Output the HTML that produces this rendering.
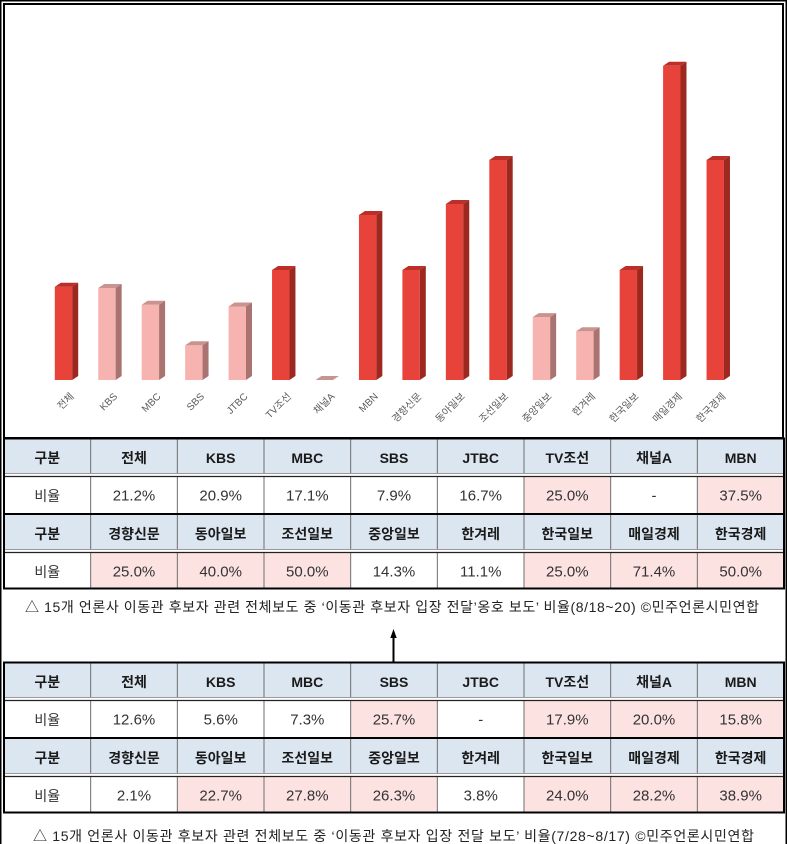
<!DOCTYPE html>
<html><head><meta charset="utf-8">
<style>
html,body{margin:0;padding:0;background:#fff;}
svg{display:block;}
text{font-family:"Liberation Sans","Noto Sans CJK KR",sans-serif;}
</style></head>
<body>
<svg width="787" height="844" viewBox="0 0 787 844" xmlns="http://www.w3.org/2000/svg">
<rect x="0" y="0" width="787" height="844" fill="#fff"/>
<!-- outer page border -->
<line x1="0.75" y1="0" x2="0.75" y2="844" stroke="#000" stroke-width="1.5"/>
<line x1="0" y1="0.75" x2="787" y2="0.75" stroke="#000" stroke-width="1.5"/>
<line x1="786.25" y1="0" x2="786.25" y2="844" stroke="#000" stroke-width="1.5"/>
<!-- chart frame -->
<rect x="4" y="4" width="779" height="434" fill="none" stroke="#000" stroke-width="2"/>

<defs>
<g id="dummy"></g>
</defs>

<!-- bars -->
<g>
<!-- 0 전체 red h=93.3 -->
<g transform="translate(54.8,286.7)"><rect x="0" y="0" width="17.4" height="93.3" fill="#e8433a"/><polygon points="0,0 6,-4 23.4,-4 17.4,0" fill="#bb2f28"/><polygon points="17.4,0 23.4,-4 23.4,89.3 17.4,93.3" fill="#9c2820"/></g>
<!-- 1 KBS pink h=92 -->
<g transform="translate(98.25,288)"><rect x="0" y="0" width="17.4" height="92" fill="#f7b3b0"/><polygon points="0,0 6,-4 23.4,-4 17.4,0" fill="#c99390"/><polygon points="17.4,0 23.4,-4 23.4,88 17.4,92" fill="#a87370"/></g>
<!-- 2 MBC pink h=75.2 -->
<g transform="translate(141.7,304.8)"><rect x="0" y="0" width="17.4" height="75.2" fill="#f7b3b0"/><polygon points="0,0 6,-4 23.4,-4 17.4,0" fill="#c99390"/><polygon points="17.4,0 23.4,-4 23.4,71.2 17.4,75.2" fill="#a87370"/></g>
<!-- 3 SBS pink h=34.8 -->
<g transform="translate(185.15,345.2)"><rect x="0" y="0" width="17.4" height="34.8" fill="#f7b3b0"/><polygon points="0,0 6,-4 23.4,-4 17.4,0" fill="#c99390"/><polygon points="17.4,0 23.4,-4 23.4,30.8 17.4,34.8" fill="#a87370"/></g>
<!-- 4 JTBC pink h=73.5 -->
<g transform="translate(228.6,306.5)"><rect x="0" y="0" width="17.4" height="73.5" fill="#f7b3b0"/><polygon points="0,0 6,-4 23.4,-4 17.4,0" fill="#c99390"/><polygon points="17.4,0 23.4,-4 23.4,69.5 17.4,73.5" fill="#a87370"/></g>
<!-- 5 TV조선 red h=110 -->
<g transform="translate(272.05,270)"><rect x="0" y="0" width="17.4" height="110" fill="#e8433a"/><polygon points="0,0 6,-4 23.4,-4 17.4,0" fill="#bb2f28"/><polygon points="17.4,0 23.4,-4 23.4,106 17.4,110" fill="#9c2820"/></g>
<!-- 6 채널A zero -->
<g transform="translate(315.5,380)"><polygon points="0,0 6,-4 23.4,-4 17.4,0" fill="#c99390"/></g>
<!-- 7 MBN red h=165 -->
<g transform="translate(358.95,215)"><rect x="0" y="0" width="17.4" height="165" fill="#e8433a"/><polygon points="0,0 6,-4 23.4,-4 17.4,0" fill="#bb2f28"/><polygon points="17.4,0 23.4,-4 23.4,161 17.4,165" fill="#9c2820"/></g>
<!-- 8 경향신문 red h=110 -->
<g transform="translate(402.4,270)"><rect x="0" y="0" width="17.4" height="110" fill="#e8433a"/><polygon points="0,0 6,-4 23.4,-4 17.4,0" fill="#bb2f28"/><polygon points="17.4,0 23.4,-4 23.4,106 17.4,110" fill="#9c2820"/></g>
<!-- 9 동아일보 red h=176 -->
<g transform="translate(445.85,204)"><rect x="0" y="0" width="17.4" height="176" fill="#e8433a"/><polygon points="0,0 6,-4 23.4,-4 17.4,0" fill="#bb2f28"/><polygon points="17.4,0 23.4,-4 23.4,172 17.4,176" fill="#9c2820"/></g>
<!-- 10 조선일보 red h=220 -->
<g transform="translate(489.3,160)"><rect x="0" y="0" width="17.4" height="220" fill="#e8433a"/><polygon points="0,0 6,-4 23.4,-4 17.4,0" fill="#bb2f28"/><polygon points="17.4,0 23.4,-4 23.4,216 17.4,220" fill="#9c2820"/></g>
<!-- 11 중앙일보 pink h=62.9 -->
<g transform="translate(532.75,317.1)"><rect x="0" y="0" width="17.4" height="62.9" fill="#f7b3b0"/><polygon points="0,0 6,-4 23.4,-4 17.4,0" fill="#c99390"/><polygon points="17.4,0 23.4,-4 23.4,58.9 17.4,62.9" fill="#a87370"/></g>
<!-- 12 한겨레 pink h=48.8 -->
<g transform="translate(576.2,331.2)"><rect x="0" y="0" width="17.4" height="48.8" fill="#f7b3b0"/><polygon points="0,0 6,-4 23.4,-4 17.4,0" fill="#c99390"/><polygon points="17.4,0 23.4,-4 23.4,44.8 17.4,48.8" fill="#a87370"/></g>
<!-- 13 한국일보 red h=110 -->
<g transform="translate(619.65,270)"><rect x="0" y="0" width="17.4" height="110" fill="#e8433a"/><polygon points="0,0 6,-4 23.4,-4 17.4,0" fill="#bb2f28"/><polygon points="17.4,0 23.4,-4 23.4,106 17.4,110" fill="#9c2820"/></g>
<!-- 14 매일경제 red h=314.2 -->
<g transform="translate(663.1,65.8)"><rect x="0" y="0" width="17.4" height="314.2" fill="#e8433a"/><polygon points="0,0 6,-4 23.4,-4 17.4,0" fill="#bb2f28"/><polygon points="17.4,0 23.4,-4 23.4,310.2 17.4,314.2" fill="#9c2820"/></g>
<!-- 15 한국경제 red h=220 -->
<g transform="translate(706.55,160)"><rect x="0" y="0" width="17.4" height="220" fill="#e8433a"/><polygon points="0,0 6,-4 23.4,-4 17.4,0" fill="#bb2f28"/><polygon points="17.4,0 23.4,-4 23.4,216 17.4,220" fill="#9c2820"/></g>
</g>

<!-- category labels -->
<g font-size="10" fill="#595959" text-anchor="end">
<text transform="translate(74.5,397) rotate(-45)">전체</text>
<text transform="translate(117.95,397) rotate(-45)">KBS</text>
<text transform="translate(161.4,397) rotate(-45)">MBC</text>
<text transform="translate(204.85,397) rotate(-45)">SBS</text>
<text transform="translate(248.3,397) rotate(-45)">JTBC</text>
<text transform="translate(291.75,397) rotate(-45)">TV조선</text>
<text transform="translate(335.2,397) rotate(-45)">채널A</text>
<text transform="translate(378.65,397) rotate(-45)">MBN</text>
<text transform="translate(422.1,397) rotate(-45)">경향신문</text>
<text transform="translate(465.55,397) rotate(-45)">동아일보</text>
<text transform="translate(509,397) rotate(-45)">조선일보</text>
<text transform="translate(552.45,397) rotate(-45)">중앙일보</text>
<text transform="translate(595.9,397) rotate(-45)">한겨레</text>
<text transform="translate(639.35,397) rotate(-45)">한국일보</text>
<text transform="translate(682.8,397) rotate(-45)">매일경제</text>
<text transform="translate(726.25,397) rotate(-45)">한국경제</text>
</g>

<!-- ================= TABLE 1 ================= -->
<g>
<rect x="4" y="439" width="780" height="35" fill="#dce6f1"/>
<rect x="4" y="515" width="780" height="35" fill="#dce6f1"/>
<!-- pink cells row data1 -->
<rect x="524" y="477" width="86.67" height="36" fill="#fde2e2"/>
<rect x="697.33" y="477" width="86.67" height="36" fill="#fde2e2"/>
<!-- pink cells row data2 -->
<rect x="90.67" y="553" width="86.67" height="35" fill="#fde2e2"/>
<rect x="177.33" y="553" width="86.67" height="35" fill="#fde2e2"/>
<rect x="264" y="553" width="86.67" height="35" fill="#fde2e2"/>
<rect x="524" y="553" width="86.67" height="35" fill="#fde2e2"/>
<rect x="610.67" y="553" width="86.67" height="35" fill="#fde2e2"/>
<rect x="697.33" y="553" width="86.67" height="35" fill="#fde2e2"/>
<!-- verticals -->
<g stroke="#6e6e6e" stroke-width="1">
<line x1="90.67" y1="439" x2="90.67" y2="588"/>
<line x1="177.33" y1="439" x2="177.33" y2="588"/>
<line x1="264" y1="439" x2="264" y2="588"/>
<line x1="350.67" y1="439" x2="350.67" y2="588"/>
<line x1="437.33" y1="439" x2="437.33" y2="588"/>
<line x1="524" y1="439" x2="524" y2="588"/>
<line x1="610.67" y1="439" x2="610.67" y2="588"/>
<line x1="697.33" y1="439" x2="697.33" y2="588"/>
</g>
<!-- double lines -->
<rect x="4" y="474" width="780" height="2.5" fill="#fff"/>
<rect x="4" y="550" width="780" height="2.5" fill="#fff"/>
<line x1="4" y1="473.5" x2="784" y2="473.5" stroke="#9a9a9a" stroke-width="1"/>
<line x1="4" y1="476.5" x2="784" y2="476.5" stroke="#222" stroke-width="1.2"/>
<line x1="4" y1="549.5" x2="784" y2="549.5" stroke="#9a9a9a" stroke-width="1"/>
<line x1="4" y1="552.5" x2="784" y2="552.5" stroke="#222" stroke-width="1.2"/>
<line x1="4" y1="514" x2="784" y2="514" stroke="#000" stroke-width="2"/>
<rect x="4" y="438.5" width="780" height="150" fill="none" stroke="#000" stroke-width="2"/>
</g>
<g font-size="14" text-anchor="middle" dominant-baseline="central">
<g font-weight="bold" fill="#1a1a1a">
<text x="47.3" y="458">구분</text><text x="134" y="458">전체</text><text x="220.7" y="458">KBS</text><text x="307.3" y="458">MBC</text><text x="394" y="458">SBS</text><text x="480.7" y="458">JTBC</text><text x="567.3" y="458">TV조선</text><text x="654" y="458">채널A</text><text x="740.7" y="458">MBN</text>
<text x="47.3" y="534">구분</text><text x="134" y="534">경향신문</text><text x="220.7" y="534">동아일보</text><text x="307.3" y="534">조선일보</text><text x="394" y="534">중앙일보</text><text x="480.7" y="534">한겨레</text><text x="567.3" y="534">한국일보</text><text x="654" y="534">매일경제</text><text x="740.7" y="534">한국경제</text>
</g>
<g fill="#333" font-size="15">
<text x="47.3" y="496" font-size="14">비율</text><text x="134" y="496">21.2%</text><text x="220.7" y="496">20.9%</text><text x="307.3" y="496">17.1%</text><text x="394" y="496">7.9%</text><text x="480.7" y="496">16.7%</text><text x="567.3" y="496">25.0%</text><text x="654" y="496">-</text><text x="740.7" y="496">37.5%</text>
<text x="47.3" y="572" font-size="14">비율</text><text x="134" y="572">25.0%</text><text x="220.7" y="572">40.0%</text><text x="307.3" y="572">50.0%</text><text x="394" y="572">14.3%</text><text x="480.7" y="572">11.1%</text><text x="567.3" y="572">25.0%</text><text x="654" y="572">71.4%</text><text x="740.7" y="572">50.0%</text>
</g>
</g>

<!-- caption 1 -->
<text x="25" y="612" font-size="14" fill="#222" textLength="734" lengthAdjust="spacing">△ 15개 언론사 이동관 후보자 관련 전체보도 중 ‘이동관 후보자 입장 전달’옹호 보도’ 비율(8/18~20) ©민주언론시민연합</text>

<!-- arrow -->
<line x1="393.5" y1="636" x2="393.5" y2="662" stroke="#000" stroke-width="2"/>
<polygon points="393.5,629 390.3,638 396.7,638" fill="#000"/>

<!-- ================= TABLE 2 ================= -->
<g>
<rect x="4" y="663" width="780" height="35" fill="#dce6f1"/>
<rect x="4" y="739" width="780" height="35" fill="#dce6f1"/>
<!-- pink data1 -->
<rect x="350.67" y="701" width="86.67" height="36" fill="#fde2e2"/>
<rect x="524" y="701" width="86.67" height="36" fill="#fde2e2"/>
<rect x="610.67" y="701" width="86.67" height="36" fill="#fde2e2"/>
<rect x="697.33" y="701" width="86.67" height="36" fill="#fde2e2"/>
<!-- pink data2 -->
<rect x="177.33" y="777" width="86.67" height="35" fill="#fde2e2"/>
<rect x="264" y="777" width="86.67" height="35" fill="#fde2e2"/>
<rect x="350.67" y="777" width="86.67" height="35" fill="#fde2e2"/>
<rect x="524" y="777" width="86.67" height="35" fill="#fde2e2"/>
<rect x="610.67" y="777" width="86.67" height="35" fill="#fde2e2"/>
<rect x="697.33" y="777" width="86.67" height="35" fill="#fde2e2"/>
<g stroke="#6e6e6e" stroke-width="1">
<line x1="90.67" y1="663" x2="90.67" y2="812"/>
<line x1="177.33" y1="663" x2="177.33" y2="812"/>
<line x1="264" y1="663" x2="264" y2="812"/>
<line x1="350.67" y1="663" x2="350.67" y2="812"/>
<line x1="437.33" y1="663" x2="437.33" y2="812"/>
<line x1="524" y1="663" x2="524" y2="812"/>
<line x1="610.67" y1="663" x2="610.67" y2="812"/>
<line x1="697.33" y1="663" x2="697.33" y2="812"/>
</g>
<rect x="4" y="698" width="780" height="2.5" fill="#fff"/>
<rect x="4" y="774" width="780" height="2.5" fill="#fff"/>
<line x1="4" y1="697.5" x2="784" y2="697.5" stroke="#9a9a9a" stroke-width="1"/>
<line x1="4" y1="700.5" x2="784" y2="700.5" stroke="#222" stroke-width="1.2"/>
<line x1="4" y1="773.5" x2="784" y2="773.5" stroke="#9a9a9a" stroke-width="1"/>
<line x1="4" y1="776.5" x2="784" y2="776.5" stroke="#222" stroke-width="1.2"/>
<line x1="4" y1="738" x2="784" y2="738" stroke="#000" stroke-width="2"/>
<rect x="4" y="662.5" width="780" height="150" fill="none" stroke="#000" stroke-width="2"/>
</g>
<g font-size="14" text-anchor="middle" dominant-baseline="central">
<g font-weight="bold" fill="#1a1a1a">
<text x="47.3" y="682">구분</text><text x="134" y="682">전체</text><text x="220.7" y="682">KBS</text><text x="307.3" y="682">MBC</text><text x="394" y="682">SBS</text><text x="480.7" y="682">JTBC</text><text x="567.3" y="682">TV조선</text><text x="654" y="682">채널A</text><text x="740.7" y="682">MBN</text>
<text x="47.3" y="758">구분</text><text x="134" y="758">경향신문</text><text x="220.7" y="758">동아일보</text><text x="307.3" y="758">조선일보</text><text x="394" y="758">중앙일보</text><text x="480.7" y="758">한겨레</text><text x="567.3" y="758">한국일보</text><text x="654" y="758">매일경제</text><text x="740.7" y="758">한국경제</text>
</g>
<g fill="#333" font-size="15">
<text x="47.3" y="720" font-size="14">비율</text><text x="134" y="720">12.6%</text><text x="220.7" y="720">5.6%</text><text x="307.3" y="720">7.3%</text><text x="394" y="720">25.7%</text><text x="480.7" y="720">-</text><text x="567.3" y="720">17.9%</text><text x="654" y="720">20.0%</text><text x="740.7" y="720">15.8%</text>
<text x="47.3" y="796" font-size="14">비율</text><text x="134" y="796">2.1%</text><text x="220.7" y="796">22.7%</text><text x="307.3" y="796">27.8%</text><text x="394" y="796">26.3%</text><text x="480.7" y="796">3.8%</text><text x="567.3" y="796">24.0%</text><text x="654" y="796">28.2%</text><text x="740.7" y="796">38.9%</text>
</g>
</g>

<!-- caption 2 -->
<text x="33" y="841" font-size="14" fill="#222" textLength="721" lengthAdjust="spacing">△ 15개 언론사 이동관 후보자 관련 전체보도 중 ‘이동관 후보자 입장 전달 보도’ 비율(7/28~8/17) ©민주언론시민연합</text>
</svg>
</body></html>
